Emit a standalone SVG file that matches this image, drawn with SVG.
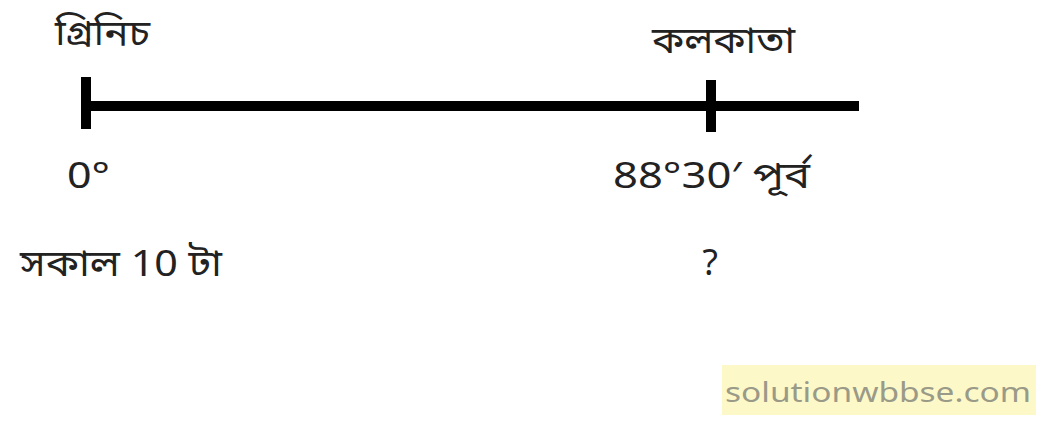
<svg xmlns="http://www.w3.org/2000/svg" width="1047" height="440" viewBox="0 0 1047 440">
<style>
.t{font-family:"Noto Sans Bengali","Noto Sans","Liberation Sans",sans-serif;font-size:36px;fill:#222}
.ln{stroke:#000;stroke-width:10;fill:none}
.wm{font-family:"Noto Sans","Liberation Sans",sans-serif;font-size:28px;fill:#9a9a88}
</style>
<rect width="1047" height="440" fill="#fff"/>
<g id="connectors">
<line class="ln" x1="86" y1="106" x2="859" y2="106"/>
</g>
<g id="greenwich">
<line class="ln" x1="86" y1="77" x2="86" y2="129"/>
<text class="t" x="55" y="46" textLength="95" lengthAdjust="spacingAndGlyphs">গ্রিনিচ</text>
<text class="t" x="67" y="188" textLength="43" lengthAdjust="spacingAndGlyphs">0°</text>
<text class="t" x="20" y="276" textLength="202" lengthAdjust="spacingAndGlyphs">সকাল 10 টা</text>
</g>
<g id="kolkata">
<line class="ln" x1="711" y1="80" x2="711" y2="132"/>
<text class="t" x="652" y="53" textLength="143" lengthAdjust="spacingAndGlyphs">কলকাতা</text>
<text class="t" x="613" y="188" textLength="197" lengthAdjust="spacingAndGlyphs">88°30′ পূর্ব</text>
<text class="t" x="701" y="275" textLength="18" lengthAdjust="spacingAndGlyphs">?</text>
</g>
<g id="watermark">
<rect x="722" y="365" width="314" height="50" fill="#fdf8c8"/>
<text class="wm" x="725" y="402" textLength="306" lengthAdjust="spacingAndGlyphs">solutionwbbse.com</text>
</g>
</svg>
